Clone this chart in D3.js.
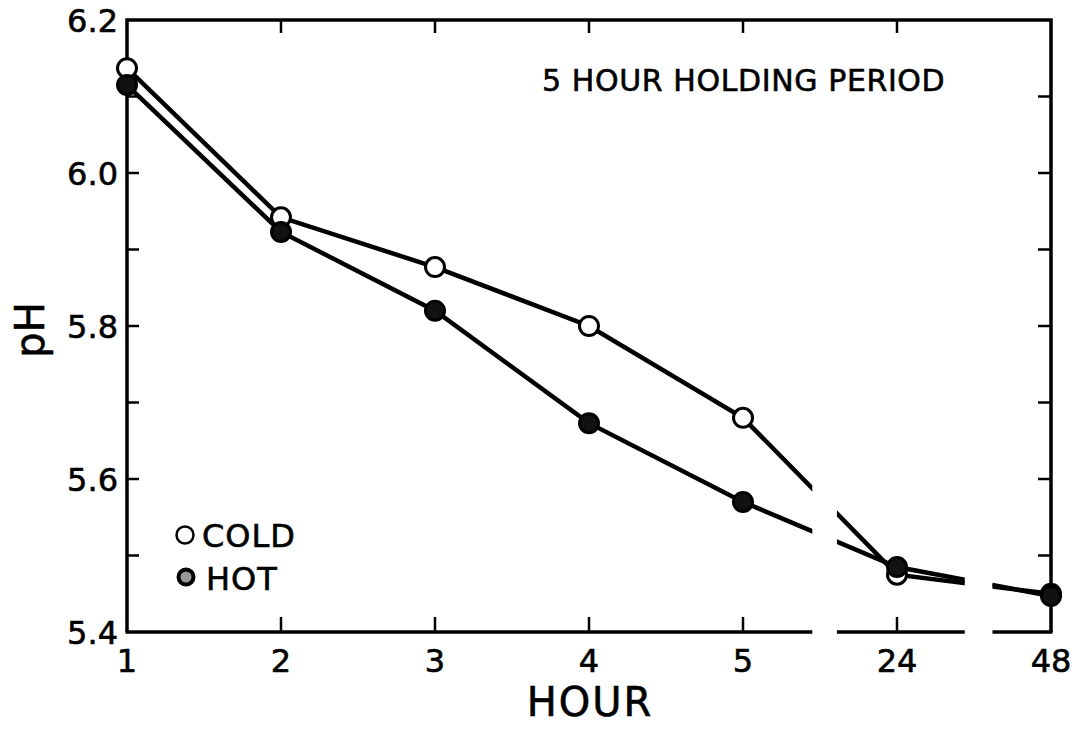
<!DOCTYPE html>
<html>
<head>
<meta charset="utf-8">
<script src="https://cdn.jsdelivr.net/npm/d3@7"></script>
<style>
	body { margin: 0; background: #fff; }
	text { font-family: "DejaVu Sans", sans-serif; fill: #000; stroke: #000; stroke-width: 0.6; }
</style>
</head>
<body>
<script>

//Chart data
let hours = ["1", "2", "3", "4", "5", "24", "48"];
let coldPH = [6.137, 5.942, 5.877, 5.800, 5.680, 5.475, 5.450];
let hotPH = [6.115, 5.923, 5.820, 5.673, 5.570, 5.485, 5.447];
let yTicks = [5.4, 5.5, 5.6, 5.7, 5.8, 5.9, 6.0, 6.1, 6.2];
let yLabels = ["5.4", "5.6", "5.8", "6.0", "6.2"];

window.onload = drawChart();

function drawChart(){

	let width = 1075;
	let height = 740;

	let svg = d3.select("body")
		.append("svg")
		.attr("width", width)
		.attr("height", height);

	let x = d3.scalePoint()
		.domain(hours)
		.range([127, 1051]);

	let y = d3.scaleLinear()
		.domain([5.4, 6.2])
		.range([632, 20]);

	let step = x.step();
	let left = x("1"), right = x("48");
	let top = y(6.2), bottom = y(5.4);

	//Broken stretches of the hour axis (between 5 and 24, and between 24 and 48)
	let gaps = [
		[x("5") + 0.45 * step, x("5") + 0.61 * step],
		[x("24") + 0.44 * step, x("24") + 0.62 * step]
	];
	let pieces = [[0, gaps[0][0]], [gaps[0][1], gaps[1][0]], [gaps[1][1], width]];

	let clip = svg.append("clipPath").attr("id", "breaks");
	clip.selectAll("rect")
		.data(pieces)
		.enter()
		.append("rect")
		.attr("x", d => d[0])
		.attr("width", d => d[1] - d[0])
		.attr("y", 0)
		.attr("height", height);

	//Frame: left, top, right, and broken bottom
	svg.append("path")
		.attr("d", "M" + left + "," + bottom + "V" + top + "H" + right + "V" + bottom)
		.attr("fill", "none")
		.attr("stroke", "#000")
		.attr("stroke-width", 3.5);

	svg.append("line")
		.attr("clip-path", "url(#breaks)")
		.attr("x1", left - 1.5).attr("x2", right + 1.5)
		.attr("y1", bottom).attr("y2", bottom)
		.attr("stroke", "#000")
		.attr("stroke-width", 3.5);

	//Inward ticks on left and right
	svg.selectAll(".ytickL")
		.data(yTicks.slice(1, -1))
		.enter()
		.append("line")
		.attr("x1", left).attr("x2", left + 12)
		.attr("y1", d => y(d)).attr("y2", d => y(d))
		.attr("stroke", "#000").attr("stroke-width", 2.5);

	svg.selectAll(".ytickR")
		.data(yTicks.slice(1, -1))
		.enter()
		.append("line")
		.attr("x1", right - 13).attr("x2", right)
		.attr("y1", d => y(d)).attr("y2", d => y(d))
		.attr("stroke", "#000").attr("stroke-width", 2.5);

	//Inward ticks on bottom and top
	let inner = hours.slice(1, -1);
	svg.selectAll(".xtickB")
		.data(inner)
		.enter()
		.append("line")
		.attr("x1", d => x(d)).attr("x2", d => x(d))
		.attr("y1", bottom).attr("y2", bottom - 15)
		.attr("stroke", "#000").attr("stroke-width", 2.5);

	svg.selectAll(".xtickT")
		.data(inner)
		.enter()
		.append("line")
		.attr("x1", d => x(d)).attr("x2", d => x(d))
		.attr("y1", top).attr("y2", top + 13)
		.attr("stroke", "#000").attr("stroke-width", 2.5);

	//Tick labels
	svg.selectAll(".ylabel")
		.data(yLabels)
		.enter()
		.append("text")
		.attr("x", left - 9)
		.attr("y", d => y(+d) + 11.5)
		.attr("text-anchor", "end")
		.attr("font-size", 32)
		.text(d => d);

	svg.selectAll(".xlabel")
		.data(hours)
		.enter()
		.append("text")
		.attr("x", d => x(d))
		.attr("y", 672)
		.attr("text-anchor", "middle")
		.attr("font-size", 32)
		.text(d => d);

	//Axis titles
	svg.append("text")
		.attr("x", 590)
		.attr("y", 716)
		.attr("text-anchor", "middle")
		.attr("font-size", 40)
		.attr("letter-spacing", 2)
		.text("HOUR");

	svg.append("text")
		.attr("transform", "translate(44,330) rotate(-90)")
		.attr("text-anchor", "middle")
		.attr("font-size", 40)
		.text("pH");

	svg.append("text")
		.attr("x", 542)
		.attr("y", 91)
		.attr("font-size", 30)
		.attr("letter-spacing", 0.6)
		.text("5 HOUR HOLDING PERIOD");

	//Series lines, broken at the axis breaks
	let line = d3.line()
		.x((d, i) => x(hours[i]))
		.y(d => y(d));

	let series = [
		{name: "cold", values: coldPH, fill: "#fff"},
		{name: "hot", values: hotPH, fill: "#111"}
	];

	svg.selectAll(".series")
		.data(series)
		.enter()
		.append("path")
		.attr("class", "series")
		.attr("clip-path", "url(#breaks)")
		.attr("d", d => line(d.values))
		.attr("fill", "none")
		.attr("stroke", "#000")
		.attr("stroke-width", 4.5);

	//Markers (hot drawn over cold)
	series.forEach(function(s){
		svg.selectAll(".pt-" + s.name)
			.data(s.values)
			.enter()
			.append("circle")
			.attr("cx", (d, i) => x(hours[i]))
			.attr("cy", d => y(d))
			.attr("r", 9.5)
			.attr("fill", s.fill)
			.attr("stroke", "#000")
			.attr("stroke-width", 3);
	});

	//Legend
	svg.append("circle")
		.attr("cx", 185).attr("cy", 535).attr("r", 8.5)
		.attr("fill", "#fff").attr("stroke", "#000").attr("stroke-width", 2.5);
	svg.append("text")
		.attr("x", 202).attr("y", 547)
		.attr("font-size", 32)
		.attr("letter-spacing", 1)
		.text("COLD");

	svg.append("circle")
		.attr("cx", 186).attr("cy", 577).attr("r", 7.5)
		.attr("fill", "#999").attr("stroke", "#000").attr("stroke-width", 4);
	svg.append("text")
		.attr("x", 206).attr("y", 590)
		.attr("font-size", 32)
		.attr("letter-spacing", 1)
		.text("HOT");
};
</script>
</body>
</html>
